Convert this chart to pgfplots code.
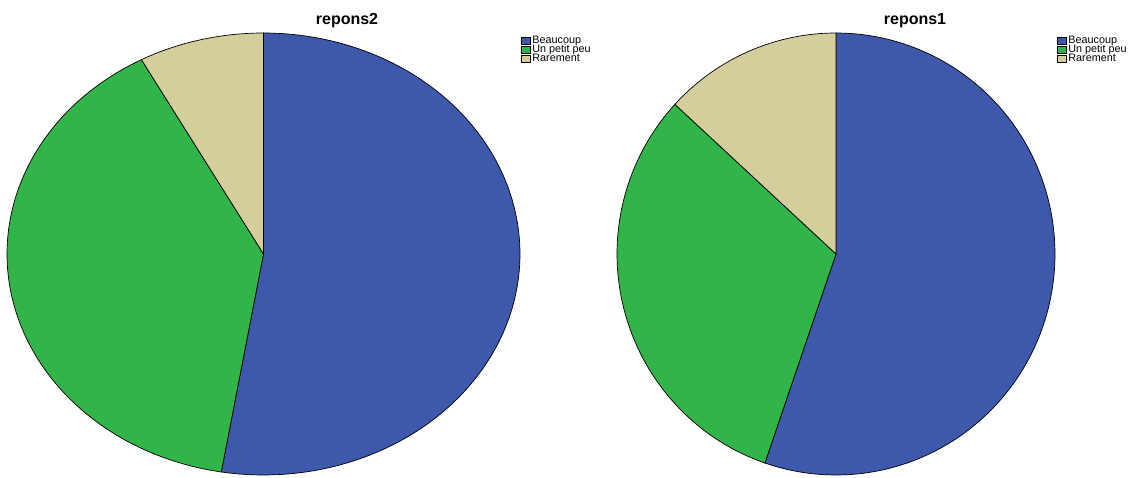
\documentclass[border=0pt]{standalone}
\usepackage{pgfplots}
\pgfplotsset{compat=1.18}
\usepackage{fontspec}
\setmainfont{Liberation Sans}
\definecolor{cBeau}{RGB}{62,88,172}
\definecolor{cPetit}{RGB}{50,181,72}
\definecolor{cRare}{RGB}{212,206,156}

% one slice: cx, cy, rx, ry, start angle, end angle (clockwise from top), colour
% sample -1 and 101 sit at the centre, 0..100 run along the arc
\newcommand\slice[7]{%
  \addplot[fill=#7, draw=black, line width=0.7pt, samples at={-1,0,...,101}]
    ({#1+#3*(x>=0)*(x<=100)*sin(#5+(#6-#5)*x/100)},
     {#2+#4*(x>=0)*(x<=100)*cos(#5+(#6-#5)*x/100)}) -- cycle;}

\tikzset{titlefont/.style={font=\bfseries\fontsize{16}{16}\selectfont}}
\pgfplotsset{
  pieaxis/.style={
    width=1130pt, height=477pt, scale only axis,
    xmin=0, xmax=1130, ymin=0, ymax=477,
    hide axis, clip=false,
    legend cell align=left,
    legend image code/.code={\draw[##1, line width=0.4pt] (0pt,-3.6pt) rectangle (9pt,3.6pt);},
    legend style={draw=none, fill=none, anchor=north west, inner sep=0pt,
      font=\fontsize{10.8}{10.8}\selectfont, row sep=0pt,
      nodes={inner xsep=1.8pt, inner ysep=0.4pt, text height=6.8pt, text depth=1.4pt}},
  },
}

\begin{document}
\begin{tikzpicture}
% repons2 : Beaucoup 20, Un petit peu 15, Rarement 3
\begin{axis}[pieaxis, legend style={at={(axis cs:521,441)}}]
\path (axis cs:0,0) rectangle (axis cs:1130,477);
\pgfmathsetmacro{\aA}{360*20/38}
\pgfmathsetmacro{\aB}{360*(20+15)/38}
\slice{263.5}{223}{256.5}{221}{0}{\aA}{cBeau}
\slice{263.5}{223}{256.5}{221}{\aA}{\aB}{cPetit}
\slice{263.5}{223}{256.5}{221}{\aB}{360}{cRare}
\legend{Beaucoup, Un petit peu, Rarement}
\node[titlefont] at (axis cs:347,456) {repons2};
\end{axis}
% repons1 : Beaucoup 21, Un petit peu 12, Rarement 5
\begin{axis}[pieaxis, legend style={at={(axis cs:1057,441)}}]
\pgfmathsetmacro{\aA}{360*21/38}
\pgfmathsetmacro{\aB}{360*(21+12)/38}
\slice{836}{223}{219}{221}{0}{\aA}{cBeau}
\slice{836}{223}{219}{221}{\aA}{\aB}{cPetit}
\slice{836}{223}{219}{221}{\aB}{360}{cRare}
\legend{Beaucoup, Un petit peu, Rarement}
\node[titlefont] at (axis cs:915,456) {repons1};
\end{axis}
\end{tikzpicture}
\end{document}
